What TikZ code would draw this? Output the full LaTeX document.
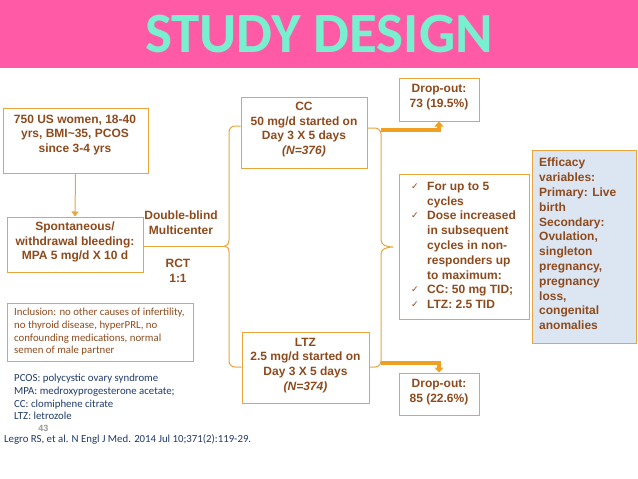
\documentclass[tikz,border=0pt]{standalone}
\usepackage{fontspec}
\setmainfont{Liberation Sans}
\newfontfamily\calib{Carlito}
\newfontfamily\djv{DejaVu Sans}
\usetikzlibrary{arrows.meta}
\definecolor{pinkbar}{HTML}{FF5AA6}
\definecolor{aqua}{HTML}{78F0D0}
\definecolor{bord}{HTML}{E8A53E}
\definecolor{txt}{HTML}{8E4A1C}
\definecolor{thickc}{HTML}{F0A020}
\definecolor{navy}{HTML}{1F3A6A}
\definecolor{bluefill}{HTML}{DCE6F2}
\newcommand{\ck}{\makebox[16pt][l]{{\djv\mdseries\fontsize{9}{9}\selectfont\raisebox{1pt}{✓}}}}
\newcommand{\ind}{\hspace*{16pt}}
\begin{document}
\begin{tikzpicture}[x=1pt,y=-1pt,
  box/.style={draw=bord, line width=1pt, inner sep=0pt},
  mtxt/.style={text=txt, font=\bfseries\fontsize{12}{14.8}\selectfont, align=center, inner sep=0pt},
  ctxt/.style={font=\calib\fontsize{10.8}{12.7}\selectfont, align=left, inner sep=0pt, anchor=west},
  conn/.style={draw=bord, line width=1pt},
  bigarrow/.style={draw=thickc, line width=3.5pt, -{Triangle[length=5pt,width=9pt]}}]
\useasboundingbox (0,0) rectangle (638,479);
\fill[pinkbar] (0,0) rectangle (638,68);
\node[inner sep=0pt, text=aqua, font=\calib\bfseries\fontsize{57}{57}\selectfont] (title) at (319,34.5) {STUDY DESIGN};

% boxes
\node[box, minimum width=145pt, minimum height=65pt] (b1) at (75.5,140.5) {};
\node[box, minimum width=136pt, minimum height=55pt] (b2) at (75,244.5) {};
\node[box, minimum width=126pt, minimum height=71pt] (cc) at (304,132.5) {};
\node[box, minimum width=127pt, minimum height=71pt] (ltz) at (305.5,367.5) {};
\node[box, minimum width=80pt, minimum height=43pt] (d1) at (439,99.5) {};
\node[box, minimum width=80pt, minimum height=42pt] (d2) at (439,394) {};
\node[box, minimum width=130pt, minimum height=145pt] (chk) at (464,246.5) {};
\node[box, fill=bluefill, minimum width=104pt, minimum height=193pt] (eff) at (584,246.5) {};
\node[box, minimum width=186pt, minimum height=58pt] (inc) at (100,332) {};

% texts
\node[mtxt] (t1) at (75,135) {750 US women, 18-40\\yrs, BMI\textasciitilde35, PCOS\\since 3-4 yrs};
\node[mtxt] (t2) at (75,242) {Spontaneous/\\withdrawal bleeding:\\MPA 5 mg/d X 10 d};
\node[mtxt] (tdb) at (181,223) {Double-blind\\Multicenter};
\node[mtxt] (trct) at (178,271) {RCT\\1:1};
\node[mtxt] (tcc) at (304,129.5) {CC\\50 mg/d started on\\Day 3 X 5 days\\\textit{(N=376)}};
\node[mtxt] (tltz) at (305.5,365.5) {LTZ\\2.5 mg/d started on\\Day 3 X 5 days\\\textit{(N=374)}};
\node[mtxt] (td1) at (439,97.5) {Drop-out:\\73 (19.5\%)};
\node[mtxt] (td2) at (439,392.5) {Drop-out:\\85 (22.6\%)};
\node[mtxt, align=left, anchor=west] (tchk) at (411,245.5) {\ck For up to 5\\\ind cycles\\\ck Dose increased\\\ind in subsequent\\\ind cycles in non-\\\ind responders up\\\ind to maximum:\\\ck CC: 50 mg TID;\\\ck LTZ: 2.5 TID};
\node[mtxt, align=left, anchor=west] (teff) at (539,244) {Efficacy\\variables:\\Primary: Live\\birth\\Secondary:\\Ovulation,\\singleton\\pregnancy,\\pregnancy\\loss,\\congenital\\anomalies};
\node[ctxt, text=txt] (tinc) at (14,332) {Inclusion: no other causes of infertility,\\no thyroid disease, hyperPRL, no\\confounding medications, normal\\semen of male partner};
\node[ctxt, text=navy] (tabb) at (14,397) {PCOS: polycystic ovary syndrome\\MPA: medroxyprogesterone acetate;\\CC: clomiphene citrate\\LTZ: letrozole};
\node[inner sep=0pt, text=black!40, font=\bfseries\fontsize{9}{9}\selectfont] (pg) at (43.5,428) {43};
\node[ctxt, text=navy] (tref) at (4,439) {Legro RS, et al. N Engl J Med. 2014 Jul 10;371(2):119-29.};

% connectors
\draw[conn, -{Triangle[length=5pt,width=7pt]}] (b1.south) -- (b2.north);
\coordinate (ltip) at (225,246);
\coordinate (rtip) at (393,247);
\draw[conn] (b2.east |- ltip) -- (ltip);
\draw[conn] (cc.west |- 0,126) -- (235,126) to[out=180,in=90] (229,132) -- (229,240)
  to[out=-90,in=0] (ltip) to[out=0,in=90] (229,252) -- (229,361) to[out=-90,in=180] (235,367) -- (ltz.west |- 0,367);
\draw[conn] (cc.east |- 0,128) -- (375,128) to[out=0,in=90] (381,134) -- (381,240)
  to[out=-90,in=180] (rtip) to[out=180,in=90] (381,254) -- (381,361) to[out=-90,in=0] (375,367) -- (ltz.east |- 0,367);
\coordinate (rt) at (381,130);
\coordinate (rb) at (381,363);
\draw[bigarrow] (rt) -| (d1.south);
\draw[bigarrow] (rb) -| (d2.north);
\end{tikzpicture}
\end{document}
